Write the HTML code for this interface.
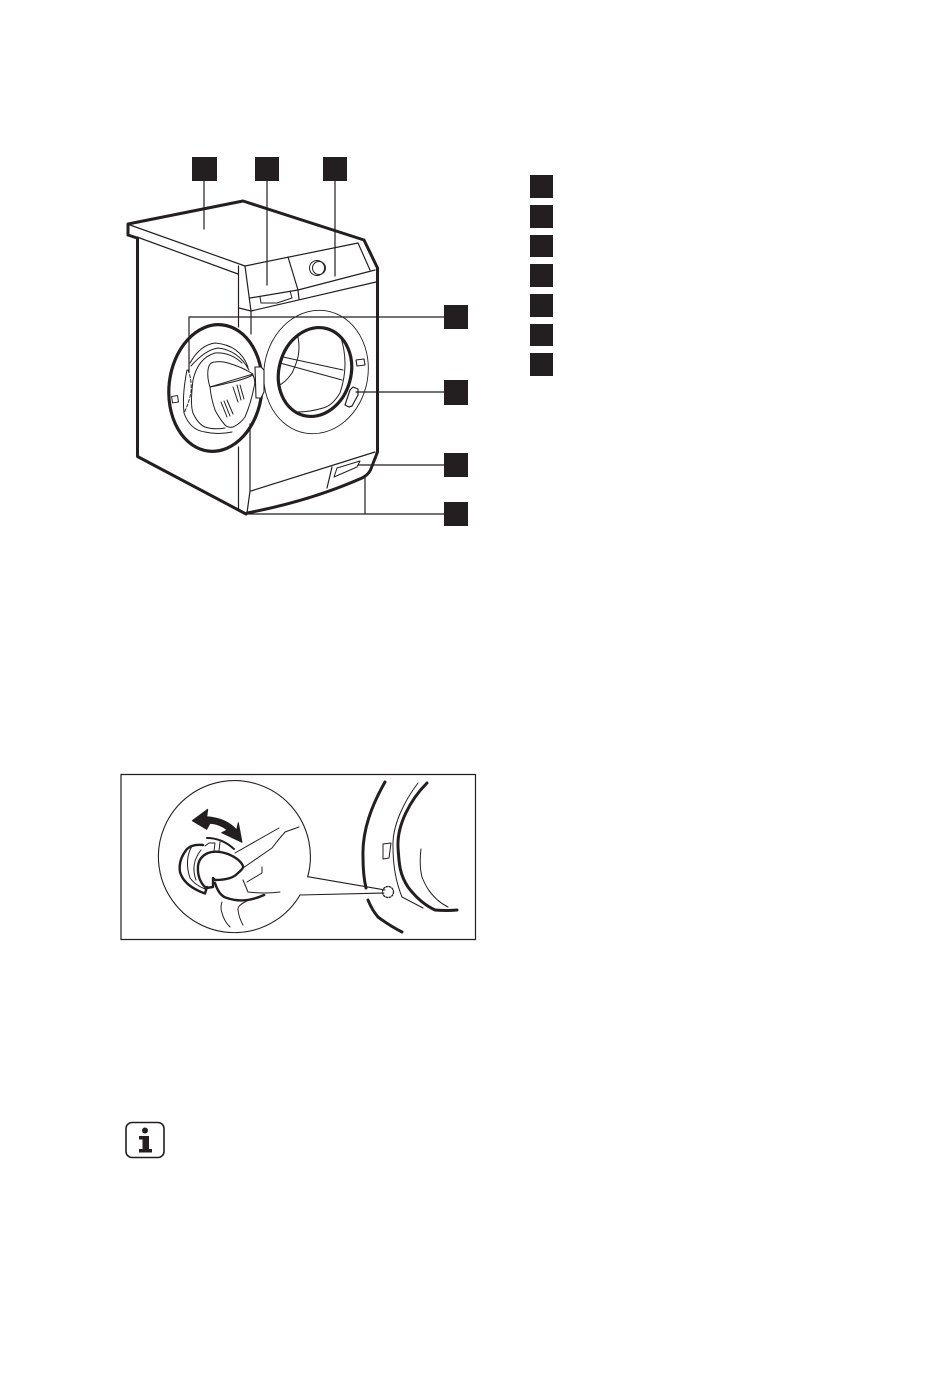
<!DOCTYPE html>
<html><head><meta charset="utf-8"><style>
html,body{margin:0;padding:0;background:#fff;width:950px;height:1374px;overflow:hidden}
svg{display:block}
</style></head><body>
<svg width="950" height="1374" viewBox="0 0 950 1374" xmlns="http://www.w3.org/2000/svg" fill="none" stroke="#231f20" stroke-linejoin="round" stroke-linecap="round">
<g fill="#231f20" stroke="none">
<rect x="192" y="157" width="25" height="24"/><rect x="255" y="157" width="24" height="24"/><rect x="323" y="157" width="24" height="24"/>
<rect x="444" y="305" width="24" height="24"/><rect x="444" y="380" width="24" height="25"/><rect x="444" y="453" width="24" height="24"/><rect x="444" y="502" width="24" height="24"/>
<rect x="530" y="175" width="23" height="23"/><rect x="530" y="205" width="23" height="23"/><rect x="530" y="235" width="23" height="22"/><rect x="530" y="264" width="23" height="23"/><rect x="530" y="294" width="23" height="23"/><rect x="530" y="324" width="23" height="22"/><rect x="530" y="353" width="23" height="23"/>
</g>
<!-- machine outline -->
<g stroke-width="3">
<path d="M137.5 238V456.5L246 514"/>
<path d="M128 235V224L243 201L364 240L377.5 268V452L370.5 470Q368 475 362 478Q310 501 247 513"/>
<path d="M128 235L137 238"/>
</g>
<g stroke-width="1.2">
<path d="M130 225L245 266L358 243L370 270"/>
<path d="M137 237L238 274"/>
<path d="M238.5 266V327M238.5 447V510L246 514"/>
<path d="M245 266L251 311V334M250 424V491L247 513"/>
<path d="M288 257L298 290L299 299"/>
<path d="M250 298L298 290L375 270"/>
<path d="M251 311L376 282"/>
<path d="M239 308L251 311"/>
<path d="M251 491L375 452M332 467L327 488"/>
<path d="M260 297L261 303H277L292 298L290 291" stroke-width="1"/>
<circle cx="317" cy="268" r="7.5" stroke-width="1"/><circle cx="319" cy="268" r="6.5" stroke-width="1"/>
<path d="M337 468L360 461L357 467L334 477Z" stroke-width="1"/>
</g>
<!-- leaders -->
<g stroke-width="1.2">
<path d="M204 181V229M267 181V285M335 181V276"/>
<path d="M444 317H189V372"/>
<path d="M444 392H356M444 465H358M444 514H247M365 477V514"/>
</g>
<!-- cabinet porthole -->
<ellipse cx="316" cy="372" rx="52" ry="62" stroke-width="0.9" transform="rotate(10 316 372)"/>
<ellipse cx="315" cy="372" rx="36" ry="45" stroke-width="3.2" transform="rotate(15 315 372)"/>
<path d="M340 335Q350 363 340 393Q332 406 323 408Q310 412 297 412" stroke-width="1"/>
<path d="M283 357L343 370M280 363L342 380M298 337Q300 348 298 357Q296 365 292 373Q286 382 278 386" stroke-width="1"/>
<path d="M356 360L364 359L365 365L357 366Z" stroke-width="1.1"/>
<path d="M345 405L350 390L353 387L358 389L358 395L352 406L349 407Z" stroke-width="1.2"/>
<!-- door -->
<ellipse cx="215.5" cy="388" rx="46.5" ry="63.5" stroke-width="3.2" transform="rotate(6 215.5 388)"/>
<path d="M255 367H261L264 370V392L261 398H256Z" fill="#fff" stroke-width="1.1"/>
<path d="M187 370Q182 395 184 413Q190 430 205 432Q218 435 232 432" stroke-width="1"/>
<g stroke-width="1">
<path d="M190 363Q200 345 215 343Q240 345 248 367"/>
<path d="M191 366Q205 350 218 348Q238 350 249 370"/>
<path d="M193 380Q198 358 215 353Q230 352 242 363"/>
<path d="M193 380Q190 405 193 413Q198 424 205 427Q214 430 225 428"/>
<path d="M208 370Q209 362 215 362Q222 361 228 363Q242 367 253 374L210 387Q207 378 208 370Z"/>
<path d="M210 387Q221 385 228 383Q243 380 253 375Q256 382 254 387Q251 403 245 417Q240 424 233 427Q228 428 225 425Q219 418 215 410Q211 398 210 387Z"/>
<path d="M233 387L238 402M237 385L241 400M240 385L244 399"/>
<path d="M221 402L227 417M224 401L230 416M227 400L233 414"/>
<rect x="172" y="396" width="6" height="6.5" transform="rotate(-8 175 399)"/>
</g>
<path d="M188 370Q192 380 191 392Q189 403 184 413" stroke-width="1" stroke-dasharray="3 2"/>
<!-- second figure frame -->
<rect x="121" y="774.5" width="354.5" height="165" stroke-width="1.2"/>
<path d="M307.7 876.7A76 76 0 1 0 300 895" stroke-width="1.1"/>
<path d="M307.7 876.7L385 890M300 895L384 893" stroke-width="1.1"/>
<!-- big arrow -->
<path d="M192.3 820.7L207.7 809.3L206.7 816.7Q226 818 236.7 830L238.3 822.7L242 842.3L221.7 832.7L227.3 830Q220 824 210 823.3L206.7 829.3Z" fill="#231f20" stroke="#231f20" stroke-width="1"/>
<!-- knob -->
<g stroke-width="2.4">
<path d="M203 845Q192 844 187 849Q178 860 180 872Q184 886 205 893.5L207 887"/>
<path d="M208 853Q199 857 198 866Q197 880 206 888L213 887L213 878L215 880Q232 880 238 873Q244 868 243 866Q240 859 228 854Q216 850 208 853Z"/>
<path d="M215 883Q219 896 227 898Q244 904 264 895"/>
</g>
<g stroke-width="1">
<path d="M192 846Q184 860 190 878Q195 885 205 889M201 850Q190 864 196 880"/>
<path d="M207 838Q222 838 234 849" stroke-width="2"/>
<path d="M205 846L209 843L215 843L214 851M220 842L219 851"/>
<path d="M235 853L279 828M243 868L272 848Q278 840 285 832L299 827"/>
<path d="M247 882L262 873L262 867M243 880L248 892Q265 894 280 892"/>
<path d="M265 895Q252 898 245 902Q237 906 238 910Q239 918 243 925M222 902Q220 908 222 913Q224 921 230 927"/>
</g>
<!-- drum on right -->
<g stroke-width="3">
<path d="M385 782C372 805 362 830 363 857Q363 875 366 888"/>
<path d="M368 900Q372 910 378 917Q390 926 402 932"/>
<path d="M427 783C410 800 397 825 398 847C399 865 400 875 408 887Q420 903 435 910Q447 911 457 910"/>
</g>
<g stroke-width="1">
<path d="M418 783C405 800 392 825 393 847Q393 875 402 897L423 908"/>
<path d="M421 849Q419 865 422 877Q430 898 448 907"/>
<path d="M383 844L391 843L389 858L383 859Z"/>
<circle cx="388" cy="892" r="5.5" stroke-dasharray="1.5 1.5" stroke-width="1.3"/>
</g>
<!-- info icon -->
<rect x="126" y="1122.5" width="38" height="35" rx="6" stroke-width="1.6"/>
<circle cx="145" cy="1130.5" r="3" fill="#231f20" stroke="none"/>
<path d="M139 1136H149V1149H152V1152.5H139V1149H142.5V1139.5H139Z" fill="#231f20" stroke="none"/>
</svg>
</body></html>
